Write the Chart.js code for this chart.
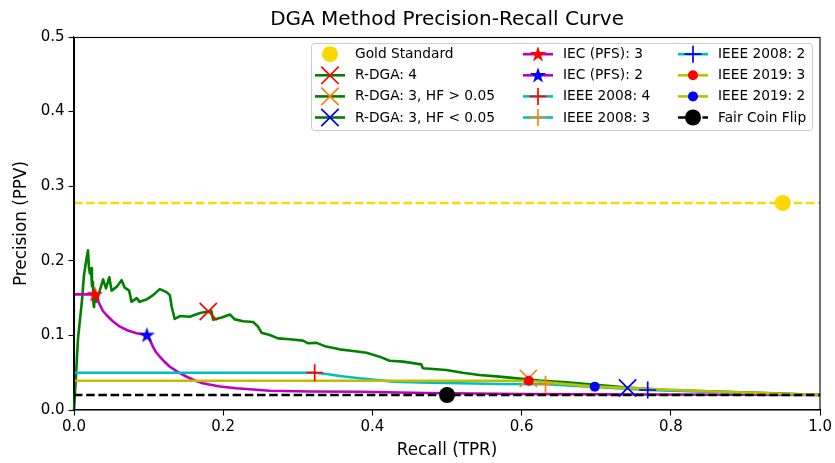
<!DOCTYPE html>
<html><head><meta charset="utf-8">
<script src="https://cdn.jsdelivr.net/npm/chart.js@4.4.1/dist/chart.umd.min.js"></script>
<style>html,body{margin:0;padding:0;background:#fff}canvas{display:block}</style>
</head><body>
<canvas id="c" width="835" height="463"></canvas>
<script>
// ---------------- data ----------------
const chartTitle = 'DGA Method Precision-Recall Curve';
const xLabel = 'Recall (TPR)';
const yLabel = 'Precision (PPV)';
const xTickValues = [0.0, 0.2, 0.4, 0.6, 0.8, 1.0];
const yTickValues = [0.0, 0.1, 0.2, 0.3, 0.4, 0.5];

const goldLevel = 0.2775;
const goldPoint = [0.95, 0.2775];
const coinLevel = 0.0201;
const coinPoint = [0.5, 0.0201];

const rdgaRecall = [0, 0.0027, 0.0054, 0.008, 0.0107, 0.0134, 0.016, 0.0187, 0.0201, 0.0214, 0.0228, 0.0241, 0.0254, 0.0259, 0.0268, 0.0281, 0.030, 0.0348, 0.039, 0.0429, 0.0473, 0.0504, 0.057, 0.0638, 0.068, 0.074, 0.077, 0.084, 0.088, 0.097, 0.106, 0.115, 0.124, 0.1285, 0.131, 0.135, 0.142, 0.155, 0.169, 0.180, 0.184, 0.1865, 0.198, 0.209, 0.2155, 0.2267, 0.240, 0.2467, 0.2513, 0.2624, 0.2735, 0.289, 0.307, 0.3137, 0.325, 0.338, 0.356, 0.374, 0.392, 0.4096, 0.423, 0.441, 0.4654, 0.4676, 0.499, 0.521, 0.5435, 0.570, 0.597, 0.624, 0.6596, 0.695, 0.742, 0.793, 0.883, 0.95, 1.0];
const rdgaPrecision = [0, 0.047, 0.096, 0.121, 0.147, 0.181, 0.198, 0.214, 0.190, 0.183, 0.190, 0.166, 0.172, 0.145, 0.138, 0.155, 0.145, 0.161, 0.175, 0.163, 0.178, 0.160, 0.165, 0.174, 0.164, 0.160, 0.145, 0.150, 0.145, 0.148, 0.154, 0.162, 0.158, 0.154, 0.138, 0.122, 0.126, 0.125, 0.130, 0.132, 0.133, 0.121, 0.124, 0.128, 0.1215, 0.119, 0.118, 0.1117, 0.1037, 0.1005, 0.096, 0.0948, 0.093, 0.0894, 0.090, 0.085, 0.0813, 0.079, 0.0768, 0.0715, 0.066, 0.0648, 0.0612, 0.0559, 0.0536, 0.050, 0.0469, 0.0447, 0.0420, 0.0395, 0.0370, 0.0340, 0.0300, 0.0268, 0.0240, 0.0220, 0.0201];

const iecRecall = [0, 0.0281, 0.0348, 0.0388, 0.0438, 0.052, 0.0616, 0.0723, 0.084, 0.0977, 0.1017, 0.1058, 0.1098, 0.1151, 0.1218, 0.1285, 0.139, 0.151, 0.162, 0.1727, 0.1954, 0.2178, 0.2624, 0.316, 0.383, 0.4726, 0.597, 0.771, 1.0];
const iecPrecision = [0.155, 0.155, 0.1408, 0.1327, 0.127, 0.119, 0.1117, 0.1066, 0.103, 0.1005, 0.0938, 0.0849, 0.0777, 0.0714, 0.0643, 0.058, 0.051, 0.0446, 0.0395, 0.0358, 0.0315, 0.0291, 0.0259, 0.0248, 0.0245, 0.0228, 0.0214, 0.0208, 0.0201];

const ieee2008Recall = [0, 0.3226, 0.338, 0.356, 0.383, 0.427, 0.4766, 0.5167, 0.570, 0.632, 0.769, 1.0];
const ieee2008Precision = [0.050, 0.050, 0.0483, 0.0456, 0.0425, 0.0380, 0.0365, 0.0358, 0.0349, 0.0345, 0.0268, 0.0201];

const ieee2019Recall = [0, 0.6096, 0.698, 0.85, 1.0];
const ieee2019Precision = [0.0393, 0.0393, 0.0313, 0.0252, 0.0201];

// operating points [recall, precision]
const rdga4 = [0.180, 0.132];
const rdga3High = [0.609, 0.0424];
const rdga3Low = [0.742, 0.0295];
const iec3 = [0.0281, 0.155];
const iec2 = [0.0977, 0.1005];
const ieee2008_4 = [0.3226, 0.050];
const ieee2008_3 = [0.632, 0.0345];
const ieee2008_2 = [0.769, 0.0268];
const ieee2019_3 = [0.6096, 0.0393];
const ieee2019_2 = [0.698, 0.0313];

// ---------------- styles ----------------
const FONT = "'DejaVu Sans', sans-serif";
const C = {
  green: '#008000', magenta: '#bf00bf', cyan: '#00bfbf', olive: '#bfbf00',
  red: '#ff0000', blue: '#0000ff', orange: '#ff7f0e', gold: '#ffd700', black: '#000000'
};
const LW = 2.6;
const DASH = [8.5, 3.7];

function zip(xs, ys) { return xs.map((x, i) => ({x: x, y: ys[i]})); }
function pt(p) { return [{x: p[0], y: p[1]}]; }

function starPath(g, cx, cy, r) {
  g.beginPath();
  for (let i = 0; i < 10; i++) {
    const a = -Math.PI / 2 + i * Math.PI / 5;
    const rr = i % 2 === 0 ? r : r * 0.382;
    g.lineTo(cx + rr * Math.cos(a), cy + rr * Math.sin(a));
  }
  g.closePath();
}
function starImage(color, r) {
  const s = Math.ceil(r * 2 + 2);
  const c = document.createElement('canvas');
  c.width = s; c.height = s;
  const g = c.getContext('2d');
  starPath(g, s / 2, s / 2 + r * 0.05, r);
  g.fillStyle = color; g.fill();
  return c;
}
const STAR_R = 8.5;
const redStar = starImage(C.red, STAR_R);
const blueStar = starImage(C.blue, STAR_R);

function lineDS(label, data, color, order, dash) {
  return {type: 'line', label, data, borderColor: color, backgroundColor: color, borderWidth: LW,
    borderDash: dash || [], pointRadius: 0, fill: false, tension: 0, order, clip: 2,
    borderJoinStyle: 'round', borderCapStyle: 'butt'};
}
function markDS(label, data, style, color, radius, order, filled) {
  return {type: 'scatter', label, data, pointStyle: style, pointRadius: radius,
    pointBorderColor: color, pointBackgroundColor: filled ? color : 'rgba(0,0,0,0)',
    pointBorderWidth: filled ? 0 : 1.7, showLine: false, order, clip: false};
}

const datasets = [
  lineDS('goldLine', [{x: 0, y: goldLevel}, {x: 1, y: goldLevel}], C.gold, 20, DASH),
  lineDS('R-DGA', zip(rdgaRecall, rdgaPrecision), C.green, 19),
  lineDS('IEC', zip(iecRecall, iecPrecision), C.magenta, 18),
  lineDS('IEEE 2008', zip(ieee2008Recall, ieee2008Precision), C.cyan, 17),
  lineDS('IEEE 2019', zip(ieee2019Recall, ieee2019Precision), C.olive, 16),
  lineDS('coinLine', [{x: 0, y: coinLevel}, {x: 1, y: coinLevel}], C.black, 15, DASH),
  markDS('Gold Standard', pt(goldPoint), 'circle', C.gold, 8, 1, true),
  markDS('R-DGA: 4', pt(rdga4), 'crossRot', C.red, 12.2, 2, false),
  markDS('R-DGA: 3, HF > 0.05', pt(rdga3High), 'crossRot', C.orange, 12.2, 3, false),
  markDS('R-DGA: 3, HF < 0.05', pt(rdga3Low), 'crossRot', C.blue, 12.2, 2, false),
  markDS('IEC (PFS): 3', pt(iec3), redStar, C.red, 8, 2, true),
  markDS('IEC (PFS): 2', pt(iec2), blueStar, C.blue, 8, 2, true),
  markDS('IEEE 2008: 4', pt(ieee2008_4), 'cross', C.red, 8.5, 2, false),
  markDS('IEEE 2008: 3', pt(ieee2008_3), 'cross', C.orange, 8.5, 2, false),
  markDS('IEEE 2008: 2', pt(ieee2008_2), 'cross', C.blue, 8.5, 2, false),
  markDS('IEEE 2019: 3', pt(ieee2019_3), 'circle', C.red, 5, 1, true),
  markDS('IEEE 2019: 2', pt(ieee2019_2), 'circle', C.blue, 5, 1, true),
  markDS('Fair Coin Flip', pt(coinPoint), 'circle', C.black, 8, 1, true)
];

// legend entries (column-major, 3 columns x 4 rows)
const legendItems = [
  {label: 'Gold Standard', line: null, marker: ['circle', C.gold, 8]},
  {label: 'R-DGA: 4', line: [C.green], marker: ['x', C.red, 8.7]},
  {label: 'R-DGA: 3, HF > 0.05', line: [C.green], marker: ['x', C.orange, 8.7]},
  {label: 'R-DGA: 3, HF < 0.05', line: [C.green], marker: ['x', C.blue, 8.7]},
  {label: 'IEC (PFS): 3', line: [C.magenta], marker: ['star', C.red, STAR_R]},
  {label: 'IEC (PFS): 2', line: [C.magenta], marker: ['star', C.blue, STAR_R]},
  {label: 'IEEE 2008: 4', line: [C.cyan], marker: ['+', C.red, 8.5]},
  {label: 'IEEE 2008: 3', line: [C.cyan], marker: ['+', C.orange, 8.5]},
  {label: 'IEEE 2008: 2', line: [C.cyan], marker: ['+', C.blue, 8.5]},
  {label: 'IEEE 2019: 3', line: [C.olive], marker: ['circle', C.red, 5]},
  {label: 'IEEE 2019: 2', line: [C.olive], marker: ['circle', C.blue, 5]},
  {label: 'Fair Coin Flip', line: [C.black, DASH], marker: ['circle', C.black, 8]}
];

const framePlugin = {
  id: 'frame',
  afterDatasetsDraw(chart) {
    const {ctx, chartArea: a} = chart;
    ctx.save();
    ctx.strokeStyle = '#000'; ctx.lineWidth = 1.1;
    ctx.strokeRect(Math.round(a.left) + 0.5, Math.round(a.top) + 0.5, Math.round(a.right - a.left) - 1 + 0.5, Math.round(a.bottom - a.top) - 0.5);
    ctx.restore();
  }
};

function drawMarker(ctx, m, x, y) {
  const [type, color, r] = m;
  ctx.save();
  ctx.fillStyle = color; ctx.strokeStyle = color; ctx.lineWidth = 1.7; ctx.setLineDash([]);
  if (type === 'circle') { ctx.beginPath(); ctx.arc(x, y, r, 0, Math.PI * 2); ctx.fill(); }
  else if (type === 'star') { starPath(ctx, x, y + r * 0.05, r); ctx.fill(); }
  else if (type === 'x') { ctx.beginPath(); ctx.moveTo(x - r, y - r); ctx.lineTo(x + r, y + r); ctx.moveTo(x + r, y - r); ctx.lineTo(x - r, y + r); ctx.stroke(); }
  else if (type === '+') { ctx.beginPath(); ctx.moveTo(x - r, y); ctx.lineTo(x + r, y); ctx.moveTo(x, y - r); ctx.lineTo(x, y + r); ctx.stroke(); }
  ctx.restore();
}

const legendPlugin = {
  id: 'mplLegend',
  afterDraw(chart) {
    const ctx = chart.ctx;
    const box = {x: 311, y: 43, w: 501, h: 87, r: 3};
    ctx.save();
    ctx.beginPath();
    ctx.roundRect(box.x + 0.5, box.y + 0.5, box.w, box.h, box.r);
    ctx.fillStyle = 'rgba(255,255,255,0.8)'; ctx.fill();
    ctx.strokeStyle = '#cccccc'; ctx.lineWidth = 1; ctx.stroke();
    const colHandle = [315, 523, 678];
    const colText = [355, 563, 718];
    const rowY = [54.2, 75.3, 96.4, 117.5];
    const HL = 30;
    ctx.font = '13.75px ' + FONT;
    ctx.textBaseline = 'middle';
    ctx.textAlign = 'left';
    legendItems.forEach((it, i) => {
      const col = Math.floor(i / 4), row = i % 4;
      const x0 = colHandle[col], y = rowY[row];
      if (it.line) {
        ctx.save();
        ctx.strokeStyle = it.line[0]; ctx.lineWidth = LW;
        ctx.setLineDash(it.line[1] || []);
        ctx.beginPath(); ctx.moveTo(x0, y); ctx.lineTo(x0 + HL, y); ctx.stroke();
        ctx.restore();
      }
      drawMarker(ctx, it.marker, x0 + HL / 2, y);
      ctx.fillStyle = '#000';
      ctx.fillText(it.label, colText[col], y + 0.5);
    });
    ctx.restore();
  }
};

const tickFont = {family: FONT, size: 15};
new Chart(document.getElementById('c'), {
  data: {datasets},
  options: {
    responsive: false, animation: false, events: [], devicePixelRatio: 1,
    layout: {padding: {left: 0, right: 14, top: 0, bottom: 0}},
    plugins: {
      legend: {display: false}, tooltip: {enabled: false},
      title: {display: true, text: chartTitle, fullSize: false, color: '#000',
        font: {family: FONT, size: 20, weight: 'normal'}, padding: {top: 8, bottom: 5}}
    },
    scales: {
      x: {type: 'linear', min: 0, max: 1,
        afterFit(s) { s.height = 53; },
        afterBuildTicks(s) { s.ticks = xTickValues.map(v => ({value: v})); },
        ticks: {color: '#000', font: tickFont, padding: 3, maxRotation: 0, autoSkip: false,
          callback: v => Number(v).toFixed(1)},
        grid: {drawOnChartArea: false, drawTicks: true, tickLength: 5.5, tickColor: '#000', tickWidth: 1.1},
        border: {display: true, color: '#000', width: 1.1},
        title: {display: true, text: xLabel, color: '#000', font: {family: FONT, size: 16.8}, padding: {top: 0, bottom: 2}}
      },
      y: {type: 'linear', min: 0, max: 0.5,
        afterFit(s) { s.width = 74; },
        afterBuildTicks(s) { s.ticks = yTickValues.map(v => ({value: v})); },
        ticks: {color: '#000', font: tickFont, padding: 4, autoSkip: false,
          callback: v => Number(v).toFixed(1)},
        grid: {drawOnChartArea: false, drawTicks: true, tickLength: 5.5, tickColor: '#000', tickWidth: 1.1},
        border: {display: true, color: '#000', width: 1.1},
        title: {display: true, text: yLabel, color: '#000', font: {family: FONT, size: 16.8}, padding: {top: 12, bottom: 0}}
      }
    }
  },
  plugins: [framePlugin, legendPlugin]
});
</script>
</body></html>
